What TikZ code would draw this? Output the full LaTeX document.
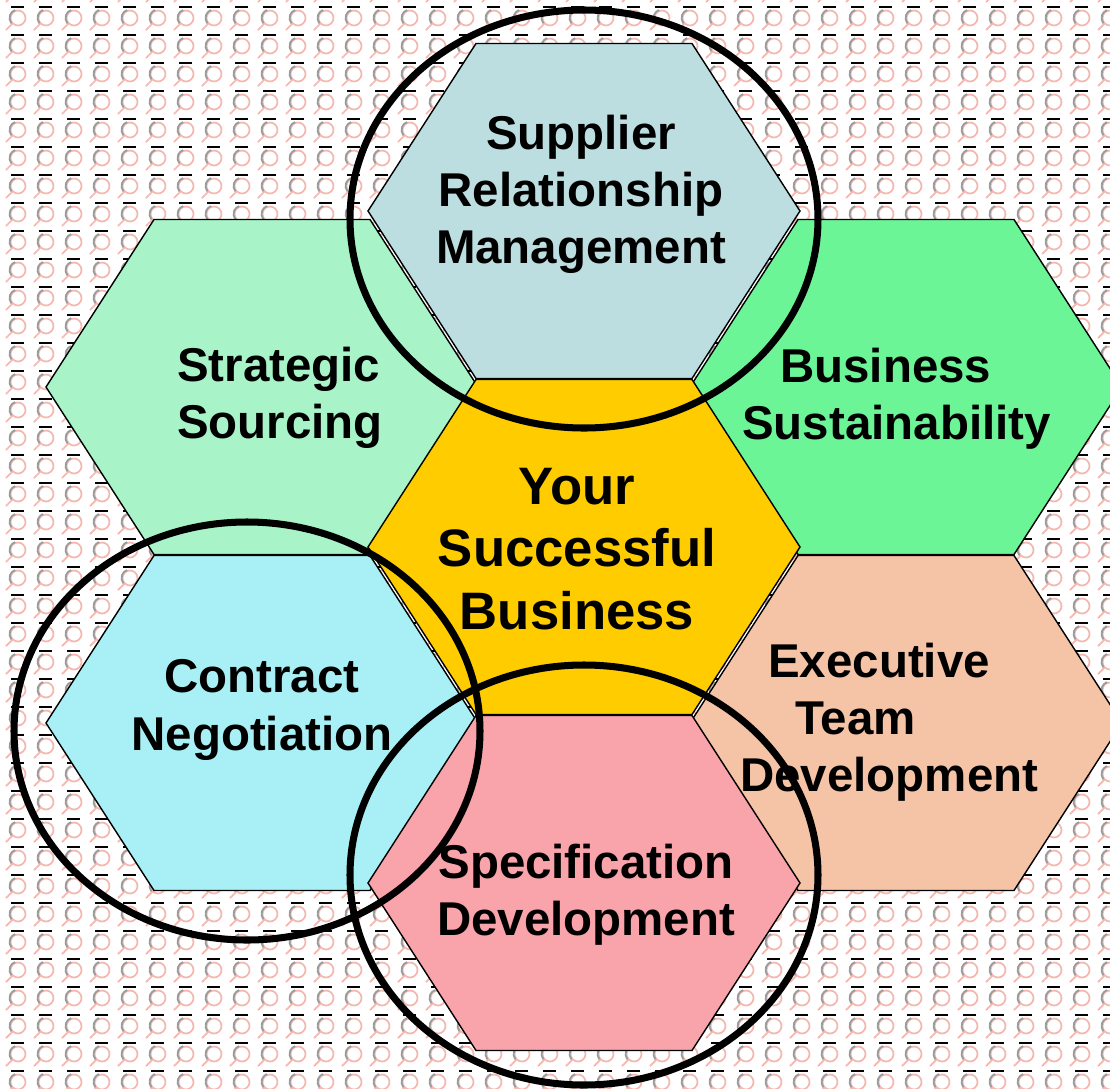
\documentclass[tikz,border=0pt]{standalone}
\usepackage{fontspec}
\setmainfont{Liberation Sans}
\definecolor{srmfill}{HTML}{BCDEE0}
\definecolor{stratfill}{HTML}{A8F4C8}
\definecolor{sustfill}{HTML}{6CF597}
\definecolor{corefill}{HTML}{FFCC00}
\definecolor{contractfill}{HTML}{A8F0F5}
\definecolor{execfill}{HTML}{F5C4A7}
\definecolor{specfill}{HTML}{F9A3AB}
\definecolor{tilepink}{HTML}{F4B8B0}
\definecolor{tilegray}{HTML}{9A9A9A}
\tikzstyle{hexlabel} = [
    font=\fontsize{27}{32.5}\selectfont\bfseries,
    align=center,
    inner sep=0pt
]
\tikzstyle{cell} = [draw=black, line width=0.8pt]
\tikzstyle{ring} = [draw=black, line width=4pt]
\tikzstyle{tile} = [line width=1pt]
% flat-topped hexagon: centre x, centre y, fill colour
\newcommand{\hexcell}[3]{%
  \filldraw[cell, fill=#3, shift={(#1,#2)}]
    (-216,0) -- (-108,-167.5) -- (108,-167.5) -- (216,0)
    -- (108,167.5) -- (-108,167.5) -- cycle;}

\begin{document}
\begin{tikzpicture}[x=0.02cm, y=-0.02cm]

\useasboundingbox (0,0) rectangle (1110,1089);
\clip (0,0) rectangle (1110,1089);

% background tiles
\fill[white] (0,0) rectangle (1110,1089);
\foreach \i in {0,...,39} {
  \foreach \j in {-1,...,38} {
    \begin{scope}[shift={(18+28*\i,18+28*\j)}]
      \draw[tile, tilepink] (0,0) circle (7.5);
      \draw[tile, tilepink] (-5,5) -- (-12,12);
      \draw[tile, tilegray] (140:8.5) arc (140:250:8.5);
      \draw[line width=0.8pt, black] (-7,-11) -- (6,-11);
    \end{scope}
  }
}

% hexagons
\hexcell{584}{211}{srmfill}
\hexcell{262}{387}{stratfill}
\hexcell{906}{387}{sustfill}
\hexcell{584}{547}{corefill}
\hexcell{262}{723}{contractfill}
\hexcell{906}{723}{execfill}
\hexcell{584}{883}{specfill}

% rings
\draw[ring] (584,219) ellipse (234 and 209);
\draw[ring] (247,731) ellipse (233 and 209);
\draw[ring] (584,875) ellipse (234 and 210);

% labels
\node (srm) [hexlabel] at (581,194) {Supplier\\Relationship\\Management};
\node (strat) [hexlabel, align=left] at (280,398) {Strategic\\Sourcing};
\node (sust) [hexlabel, align=left, anchor=west] at (742,399)
  {\hspace*{0.76cm}Business\\Sustainability};
\node (core) [hexlabel, font=\fontsize{30}{35.5}\selectfont\bfseries] at (577,549)
  {Your\\Successful\\Business};
\node (contract) [hexlabel] at (262,710) {Contract\\Negotiation};
\node (exec) [hexlabel, align=left, anchor=west] at (740,722)
  {\hspace*{0.56cm}Executive\\\hspace*{1.1cm}Team\\Development};
\node (spec) [hexlabel] at (586,895) {Specification\\Development};

\end{tikzpicture}
\end{document}
